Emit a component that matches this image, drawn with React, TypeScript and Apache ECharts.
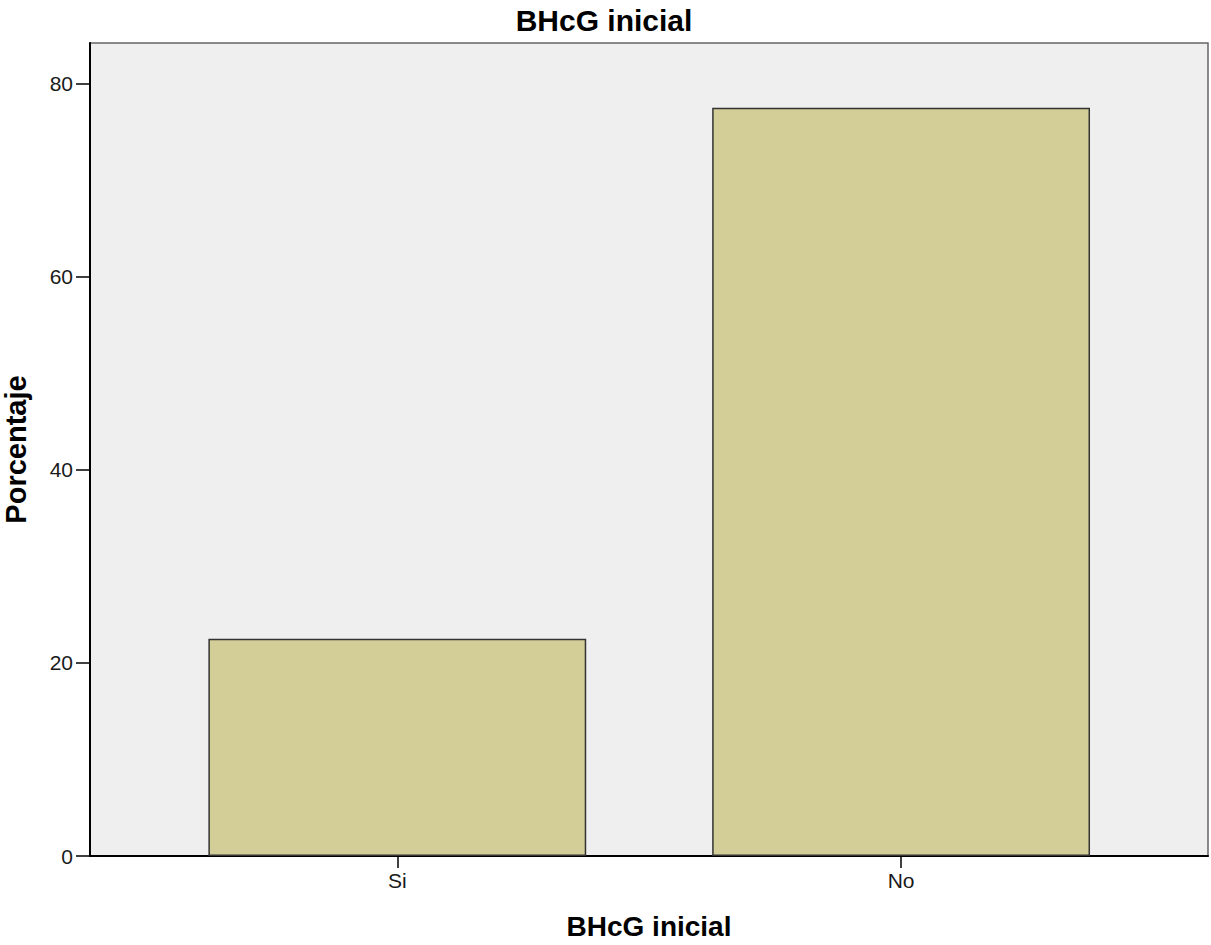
import React, { useEffect, useRef } from "react";
import * as echarts from "echarts";

const categories = ["Si", "No"];
const percentages = [22.5, 77.5];
const yTicks = [0, 20, 40, 60, 80];
const chartTitle = "BHcG inicial";
const xAxisTitle = "BHcG inicial";
const yAxisTitle = "Porcentaje";

const FONT = "'Liberation Sans', Arial, sans-serif";
const Y_MAX = 84.2;

export default function App() {
  const ref = useRef<HTMLDivElement>(null);
  useEffect(() => {
    if (!ref.current) return;
    const chart = echarts.init(ref.current, undefined, { renderer: "svg" });
    const gridTop = 43;
    const gridBottom = 89;
    chart.setOption({
      animation: false,
      backgroundColor: "#ffffff",
      textStyle: { fontFamily: FONT },
      title: {
        text: chartTitle,
        left: 599,
        top: 0,
        textAlign: "center",
        textStyle: { fontFamily: FONT, fontSize: 30, fontWeight: "bold", color: "#000" },
      },
      grid: [
        {
          left: 90,
          right: 3,
          top: gridTop,
          bottom: gridBottom,
          outerBoundsMode: "none",
          containLabel: false,
          show: true,
          backgroundColor: "#efefef",
          borderColor: "#666666",
          borderWidth: 1.5,
        },
        {
          left: 145.4,
          right: 58,
          top: gridTop,
          bottom: gridBottom,
          outerBoundsMode: "none",
          containLabel: false,
        },
      ],
      xAxis: [
        {
          gridIndex: 0,
          type: "value",
          min: 0,
          max: 1,
          axisLine: { show: true, lineStyle: { color: "#000", width: 2 } },
          axisTick: { show: false },
          axisLabel: { show: false },
          splitLine: { show: false },
          name: xAxisTitle,
          nameLocation: "middle",
          nameGap: 56,
          nameTextStyle: { fontFamily: FONT, fontSize: 28, fontWeight: "bold", color: "#000" },
        },
        {
          gridIndex: 1,
          type: "category",
          data: categories,
          axisLine: { show: false },
          axisTick: {
            show: true,
            alignWithLabel: true,
            length: 12,
            lineStyle: { color: "#000", width: 1.5 },
          },
          axisLabel: {
            margin: 14,
            fontFamily: FONT,
            fontSize: 21,
            color: "#1a1a1a",
          },
          splitLine: { show: false },
        },
      ],
      yAxis: [
        {
          gridIndex: 0,
          type: "value",
          min: 0,
          max: Y_MAX,
          interval: 20,
          axisLine: { show: true, lineStyle: { color: "#000", width: 2 } },
          axisTick: {
            show: true,
            length: 14,
            customValues: yTicks,
            lineStyle: { color: "#000", width: 1.5 },
          },
          axisLabel: {
            margin: 17,
            customValues: yTicks,
            fontFamily: FONT,
            fontSize: 21,
            color: "#1a1a1a",
          },
          splitLine: { show: false },
          name: yAxisTitle,
          nameLocation: "middle",
          nameGap: 60,
          nameTextStyle: { fontFamily: FONT, fontSize: 29, fontWeight: "bold", color: "#000" },
        },
        {
          gridIndex: 1,
          type: "value",
          min: 0,
          max: Y_MAX,
          show: false,
        },
      ],
      series: [
        {
          type: "bar",
          xAxisIndex: 1,
          yAxisIndex: 1,
          data: percentages,
          barWidth: "75%",
          itemStyle: {
            color: "#d3ce97",
            borderColor: "#333333",
            borderWidth: 1.5,
          },
        },
      ],
    });
    return () => chart.dispose();
  }, []);
  return (
    <div
      ref={ref}
      style={{ position: "absolute", left: 0, top: 0, width: 1211, height: 945 }}
    />
  );
}
